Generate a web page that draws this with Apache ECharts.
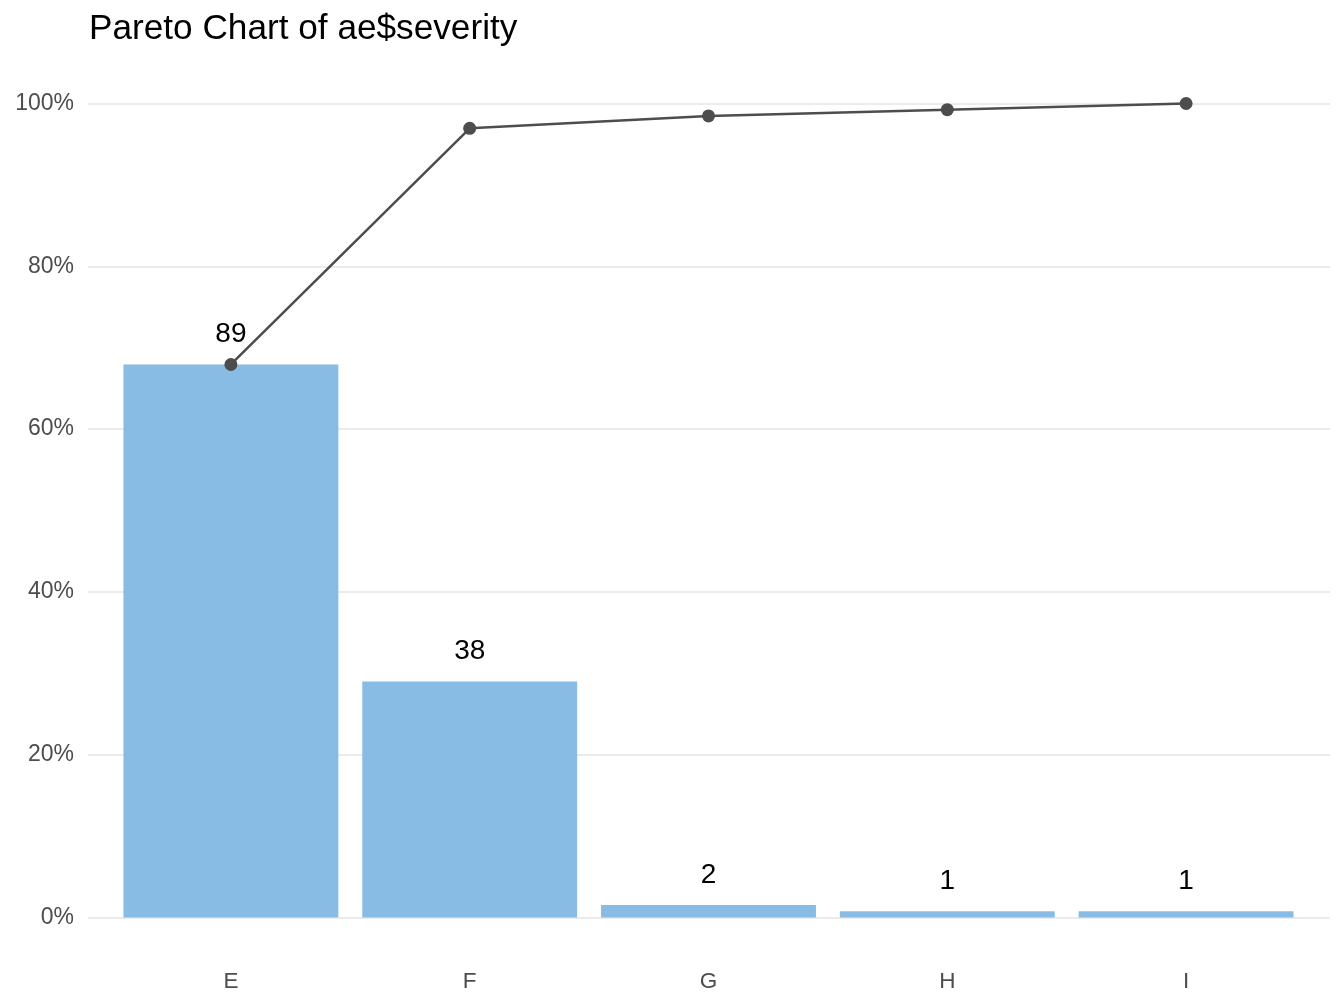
<!DOCTYPE html>
<html>
<head>
<meta charset="utf-8">
<script src="https://cdn.jsdelivr.net/npm/echarts@6/dist/echarts.min.js"></script>
<style>
html,body{margin:0;padding:0;background:#fff;}
#chart{width:1344px;height:1008px;}
</style>
</head>
<body>
<div id="chart"></div>
<script>
const categories = ['E', 'F', 'G', 'H', 'I'];
const counts = [89, 38, 2, 1, 1];
const yTicks = [0, 20, 40, 60, 80, 100];

const total = counts.reduce((a, b) => a + b, 0);
const percents = counts.map(c => c / total * 100);
const cumulative = [];
counts.reduce((acc, c) => { acc += c; cumulative.push(acc / total * 100); return acc; }, 0);

const font = 'Liberation Sans, Arial, sans-serif';
const chart = echarts.init(document.getElementById('chart'));
chart.setOption({
  backgroundColor: '#ffffff',
  animation: false,
  title: {
    text: 'Pareto Chart of ae$severity',
    left: 84,
    top: 7,
    textStyle: { fontFamily: font, fontSize: 35.2, fontWeight: 'normal', color: '#000000' }
  },
  grid: [
    { left: 88, right: 14, top: 103.5, bottom: 90.5 },
    { left: 111.5, right: 38.5, top: 103.5, bottom: 90.5 }
  ],
  xAxis: [
    { type: 'value', gridIndex: 0, show: false, min: 0, max: 1 },
    {
      type: 'category', gridIndex: 1, data: categories,
      axisLine: { show: false }, axisTick: { show: false },
      axisLabel: { margin: 53, fontFamily: font, fontSize: 22.5, color: '#4d4d4d' }
    }
  ],
  yAxis: [
    {
      type: 'value', gridIndex: 0, min: 0, max: 100, interval: 20,
      axisLine: { show: false }, axisTick: { show: false },
      axisLabel: { margin: 14, fontFamily: font, fontSize: 23, color: '#4d4d4d',
        padding: [3, 0, 0, 0],
        formatter: v => yTicks.includes(v) ? v + '%' : '' },
      splitLine: { lineStyle: { color: '#ebebeb', width: 2 } }
    },
    { type: 'value', gridIndex: 1, min: 0, max: 100, show: false, splitLine: { show: false } }
  ],
  series: [
    {
      type: 'bar', xAxisIndex: 1, yAxisIndex: 1,
      data: percents,
      barWidth: '90%',
      itemStyle: { color: '#89bce4' },
      label: {
        show: true, position: 'top', distance: 16,
        fontFamily: font, fontSize: 28, color: '#000000',
        formatter: p => counts[p.dataIndex]
      },
      z: 2
    },
    {
      type: 'line', xAxisIndex: 1, yAxisIndex: 1,
      data: cumulative,
      clip: false,
      symbol: 'circle', symbolSize: 13,
      lineStyle: { color: '#4d4d4d', width: 2.5 },
      itemStyle: { color: '#4d4d4d' },
      z: 3
    }
  ]
});
</script>
</body>
</html>
